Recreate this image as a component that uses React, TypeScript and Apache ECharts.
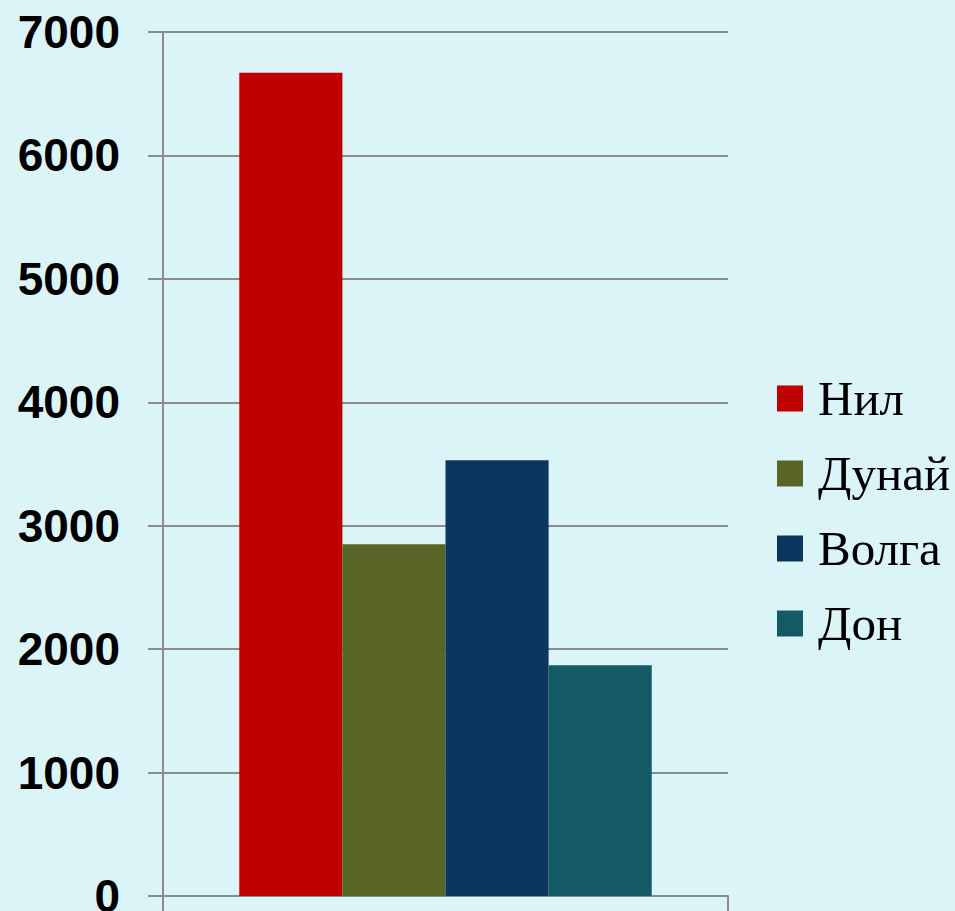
import React, { useEffect, useRef } from "react";
import * as echarts from "echarts";

const categories = [""];
const seriesNames = ["Нил", "Дунай", "Волга", "Дон"];
const seriesValues = [[6670], [2850], [3530], [1870]];
const seriesColors = ["#c00000", "#586526", "#0c3560", "#145a64"];
const yTicks = { min: 0, max: 7000, interval: 1000 };

export default function App() {
  const ref = useRef<HTMLDivElement>(null);
  useEffect(() => {
    if (!ref.current) return;
    const chart = echarts.init(ref.current, null, { renderer: "svg" });
    chart.setOption({
      animation: false,
      backgroundColor: "#dbf4f8",
      grid: { left: 163, right: 227, top: 32, bottom: 15, containLabel: false, outerBoundsMode: "none" },
      legend: {
        orient: "vertical",
        left: 772,
        top: 369,
        padding: 5,
        itemWidth: 26,
        itemHeight: 26,
        itemGap: 26,
        icon: "rect",
        textStyle: {
          fontFamily: "Liberation Serif",
          fontSize: 49,
          lineHeight: 48,
          color: "#000",
          padding: [0, 0, 0, 10],
        },
        data: seriesNames,
      },
      xAxis: {
        type: "category",
        data: categories,
        axisLine: { show: true, lineStyle: { color: "#8c8c8c", width: 2 } },
        axisTick: { show: true, length: 15, alignWithLabel: false, lineStyle: { color: "#8c8c8c", width: 2 } },
        axisLabel: { show: false },
      },
      yAxis: {
        type: "value",
        min: yTicks.min,
        max: yTicks.max,
        interval: yTicks.interval,
        axisLine: { show: true, lineStyle: { color: "#8c8c8c", width: 2 } },
        axisTick: { show: true, length: 15, lineStyle: { color: "#8c8c8c", width: 2 } },
        splitLine: { show: true, lineStyle: { color: "#8c8c8c", width: 2 } },
        axisLabel: {
          margin: 43,
          fontFamily: "Liberation Sans",
          fontWeight: "bold",
          fontSize: 46,
          color: "#000",
          formatter: (v: number) => String(v),
        },
      },
      series: seriesNames.map((name, i) => ({
        name,
        type: "bar",
        data: seriesValues[i],
        barGap: "0%",
        barCategoryGap: "27%",
        itemStyle: { color: seriesColors[i] },
      })),
    });
    return () => chart.dispose();
  }, []);
  return <div ref={ref} style={{ position: "fixed", left: 0, top: 0, width: 955, height: 911 }} />;
}
